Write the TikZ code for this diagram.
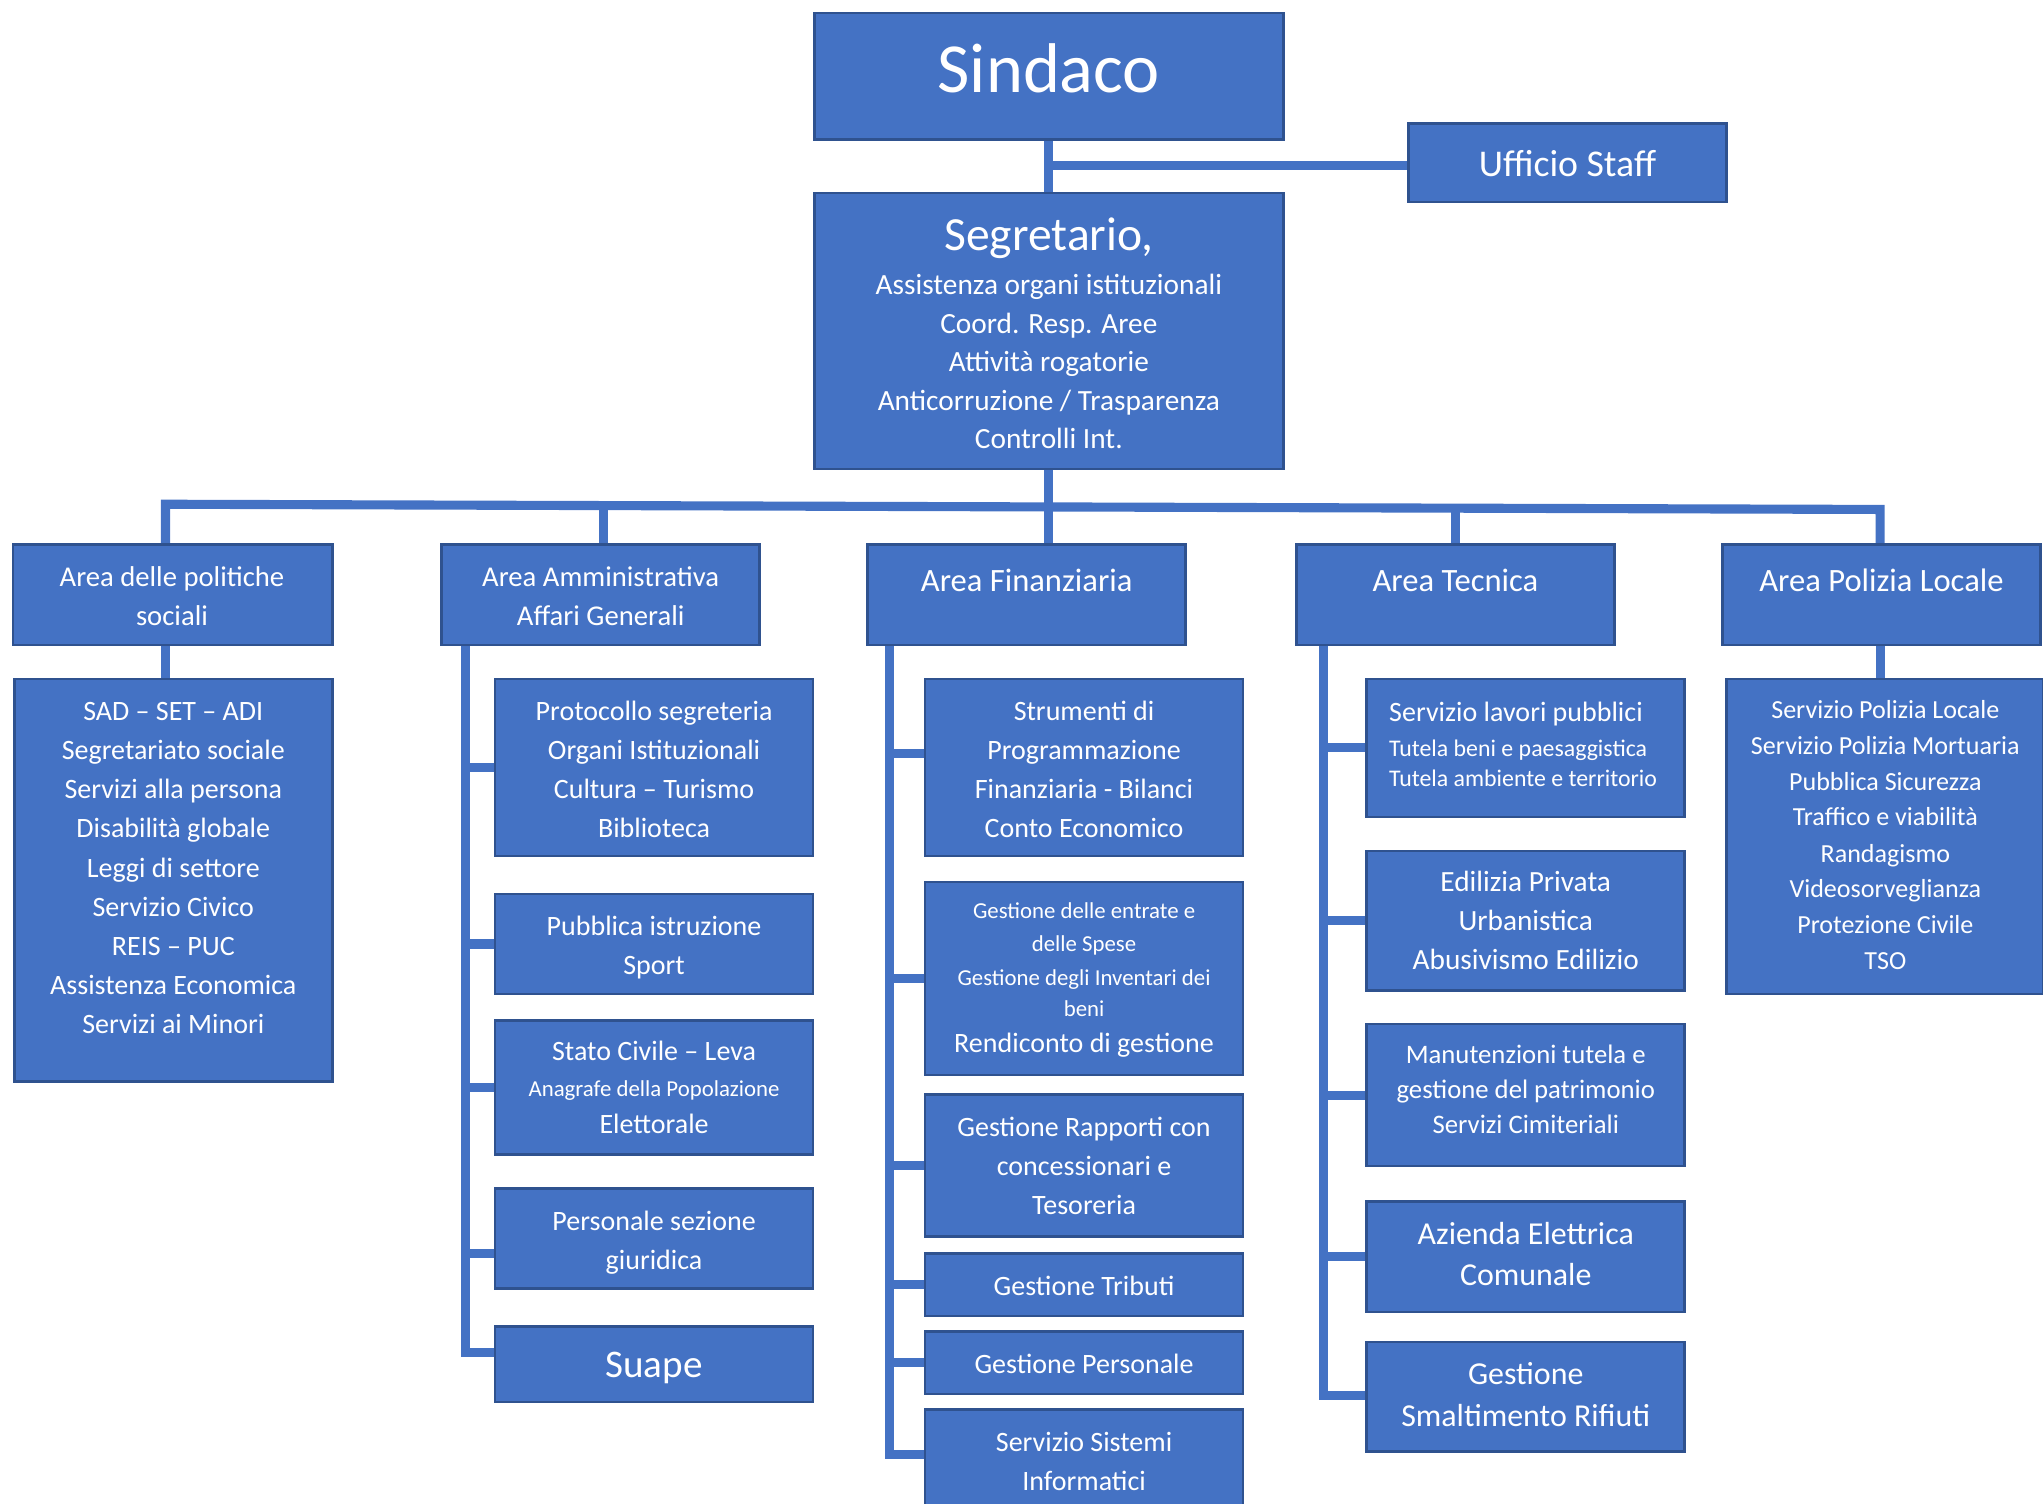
\documentclass[tikz,border=0pt]{standalone}
\usepackage{fontspec}
\setmainfont{Carlito}
\usetikzlibrary{calc}
\pgfdeclarelayer{bg}
\pgfsetlayers{bg,main}
\definecolor{blu}{HTML}{4472C4}
\definecolor{bdr}{HTML}{2F528F}
\newcommand\myfs[1]{\fontsize{#1}{#1}\selectfont}
\newcommand\mybox[5]{\node[box, minimum width={#4-#2}, minimum height={#5-#3}] (#1) at ({(#2+#4)/2},{(#3+#5)/2}) {};}
\begin{document}
\begin{tikzpicture}[x=1pt,y=-1pt,
  box/.style={draw=bdr, fill=blu, line width=2pt, inner sep=0pt, outer sep=0pt},
  tx/.style={text=white, inner sep=0pt, anchor=mid, font=\myfs{#1}, yshift={-0.22*#1}},
  txl/.style={tx=#1, anchor=mid west},
  conn/.style={draw=blu, line width=7pt}]
\useasboundingbox (0,0) rectangle (1568,1154);

% ---------- boxes ----------
\mybox{sind}{625}{10}{985}{107}
\mybox{staff}{1081}{95}{1325}{155}
\mybox{seg}{625}{148}{985}{360}
\mybox{a1}{10}{418}{255}{495}
\mybox{a2}{339}{418}{583}{495}
\mybox{a3}{666}{418}{910}{495}
\mybox{a4}{995}{418}{1239}{495}
\mybox{a5}{1322}{418}{1566}{495}
\mybox{s1}{11}{521}{255}{830}
\mybox{p1}{380}{521}{624}{657}
\mybox{p2}{380}{686}{624}{763}
\mybox{p3}{380}{783}{624}{886}
\mybox{p4}{380}{912}{624}{989}
\mybox{p5}{380}{1018}{624}{1076}
\mybox{f1}{710}{521}{954}{657}
\mybox{f2}{710}{677}{954}{825}
\mybox{f3}{710}{840}{954}{949}
\mybox{f4}{710}{962}{954}{1010}
\mybox{f5}{710}{1022}{954}{1070}
\mybox{f6}{710}{1082}{954}{1170}
\mybox{t1}{1049}{521}{1293}{627}
\mybox{t2}{1049}{653}{1293}{760}
\mybox{t3}{1049}{786}{1293}{895}
\mybox{t4}{1049}{922}{1293}{1007}
\mybox{t5}{1049}{1030}{1293}{1114}
\mybox{pz}{1325}{521}{1568}{763}

% ---------- connectors ----------
\coordinate (jst) at (805,127);
\coordinate (busL) at (127,387);
\coordinate (busR) at (1443,391);
\coordinate (v2) at (463,389);
\coordinate (v4) at (1117,390);
\coordinate (c1) at (127,500);
\coordinate (c5) at (1443,500);
\coordinate (sp2) at (357,1038);
\coordinate (j24) at (357,962);
\coordinate (sp3) at (683,1116);
\coordinate (j31) at (683,578);
\coordinate (sp4) at (1016,1071);
\begin{pgfonlayer}{bg}
\draw[conn] (sind.south) -- (seg.north);
\draw[conn] (jst) -- (jst -| staff.west);
\draw[conn] (a1.north -| busL) -- (busL) -- (busR) -- (a5.north -| busR);
\draw[conn] (seg.south) -- (seg.south |- a3.north);
\draw[conn] (v2) -- (v2 |- a2.north);
\draw[conn] (v4) -- (v4 |- a4.north);
\draw[conn] (a1.south -| c1) -- (s1.north -| c1);
\draw[conn] (a5.south -| c5) -- (pz.north -| c5);
\draw[conn] (a2.south -| sp2) -- (sp2) -- (sp2 -| p5.west);
\draw[conn] (p1.west -| sp2) -- (p1.west);
\draw[conn] (p2.west -| sp2) -- (p2.west);
\draw[conn] (p3.west -| sp2) -- (p3.west);
\draw[conn] (j24) -- (j24 -| p4.west);
\draw[conn] (a3.south -| sp3) -- (sp3) -- (sp3 -| f6.west);
\draw[conn] (j31) -- (j31 -| f1.west);
\draw[conn] (f2.west -| sp3) -- (f2.west);
\draw[conn] (f3.west -| sp3) -- (f3.west);
\draw[conn] (f4.west -| sp3) -- (f4.west);
\draw[conn] (f5.west -| sp3) -- (f5.west);
\draw[conn] (a4.south -| sp4) -- (sp4) -- (sp4 -| t5.west);
\draw[conn] (t1.west -| sp4) -- (t1.west);
\draw[conn] (t2.west -| sp4) -- (t2.west);
\draw[conn] (t3.west -| sp4) -- (t3.west);
\draw[conn] (t4.west -| sp4) -- (t4.west);
\end{pgfonlayer}

% ---------- texts ----------
\node[tx=54] (sindt) at (805,57) {Sindaco};
\node[tx=29] (stafft) at (1203,127) {Ufficio Staff};
\node[tx=36.5] (segt0) at (805,182) {Segretario,};
\foreach \t/\y [count=\i] in {Assistenza organi istituzionali/219, Coord. Resp. Aree/249, Attività rogatorie/278, {Anticorruzione / Trasparenza}/308, Controlli Int./337}
  \node[tx=22.5] (segt\i) at (805,\y) {\t};

\foreach \t/\y [count=\i] in {Area delle politiche/443, sociali/473}
  \node[tx=22] (a1t\i) at (132,\y) {\t};
\foreach \t/\y [count=\i] in {Area Amministrativa/443, Affari Generali/473}
  \node[tx=22] (a2t\i) at (461,\y) {\t};
\node[tx=25] (a3t) at (788,446) {Area Finanziaria};
\node[tx=25] (a4t) at (1117,446) {Area Tecnica};
\node[tx=25] (a5t) at (1444,446) {Area Polizia Locale};

\foreach \t/\y [count=\i] in {SAD – SET – ADI/546, Segretariato sociale/576, Servizi alla persona/606, Disabilità globale/636, Leggi di settore/666, Servizio Civico/696, REIS – PUC/726, Assistenza Economica/756, Servizi ai Minori/786}
  \node[tx=21.5] (s1t\i) at (133,\y) {\t};

\foreach \t/\y [count=\i] in {Protocollo segreteria/546, Organi Istituzionali/576, Cultura – Turismo/606, Biblioteca/636}
  \node[tx=21.5] (p1t\i) at (502,\y) {\t};
\foreach \t/\y [count=\i] in {Pubblica istruzione/711, Sport/741}
  \node[tx=21.5] (p2t\i) at (502,\y) {\t};
\node[tx=21.5] (p3t1) at (502,807) {Stato Civile – Leva};
\node[tx=17.5] (p3t2) at (502,835) {Anagrafe della Popolazione};
\node[tx=21.5] (p3t3) at (502,863) {Elettorale};
\foreach \t/\y [count=\i] in {Personale sezione/937, giuridica/967}
  \node[tx=21.5] (p4t\i) at (502,\y) {\t};
\node[tx=30] (p5t) at (502,1048) {Suape};

\foreach \t/\y [count=\i] in {Strumenti di/546, Programmazione/576, Finanziaria - Bilanci/606, Conto Economico/636}
  \node[tx=21.5] (f1t\i) at (832,\y) {\t};
\foreach \t/\y [count=\i] in {Gestione delle entrate e/699, delle Spese/724, Gestione degli Inventari dei/750, beni/774}
  \node[tx=17.5] (f2t\i) at (832,\y) {\t};
\node[tx=21.5] (f2t5) at (832,801) {Rendiconto di gestione};
\foreach \t/\y [count=\i] in {Gestione Rapporti con/865, concessionari e/895, Tesoreria/925}
  \node[tx=21.5] (f3t\i) at (832,\y) {\t};
\node[tx=21.5] (f4t) at (832,987) {Gestione Tributi};
\node[tx=21.5] (f5t) at (832,1047) {Gestione Personale};
\foreach \t/\y [count=\i] in {Servizio Sistemi/1107, Informatici/1137}
  \node[tx=21.5] (f6t\i) at (832,\y) {\t};

\node[txl=21.5] (t1t1) at (1066,547) {Servizio lavori pubblici};
\node[txl=18.3] (t1t2) at (1066,574) {Tutela beni e paesaggistica};
\node[txl=18.3] (t1t3) at (1066,597) {Tutela ambiente e territorio};
\foreach \t/\y [count=\i] in {Edilizia Privata/677, Urbanistica/707, Abusivismo Edilizio/737}
  \node[tx=22.5] (t2t\i) at (1171,\y) {\t};
\foreach \t/\y [count=\i] in {Manutenzioni tutela e/809, gestione del patrimonio/836, Servizi Cimiteriali/863}
  \node[tx=20.5] (t3t\i) at (1171,\y) {\t};
\foreach \t/\y [count=\i] in {Azienda Elettrica/947, Comunale/979}
  \node[tx=24.5] (t4t\i) at (1171,\y) {\t};
\foreach \t/\y [count=\i] in {Gestione/1055, Smaltimento Rifiuti/1087}
  \node[tx=24.5] (t5t\i) at (1171,\y) {\t};

\foreach \t/\y [count=\i] in {Servizio Polizia Locale/545, Servizio Polizia Mortuaria/572, Pubblica Sicurezza/600, Traffico e viabilità/627, Randagismo/655, Videosorveglianza/682, Protezione Civile/710, TSO/737}
  \node[tx=20] (pzt\i) at (1447,\y) {\t};
\end{tikzpicture}
\end{document}
